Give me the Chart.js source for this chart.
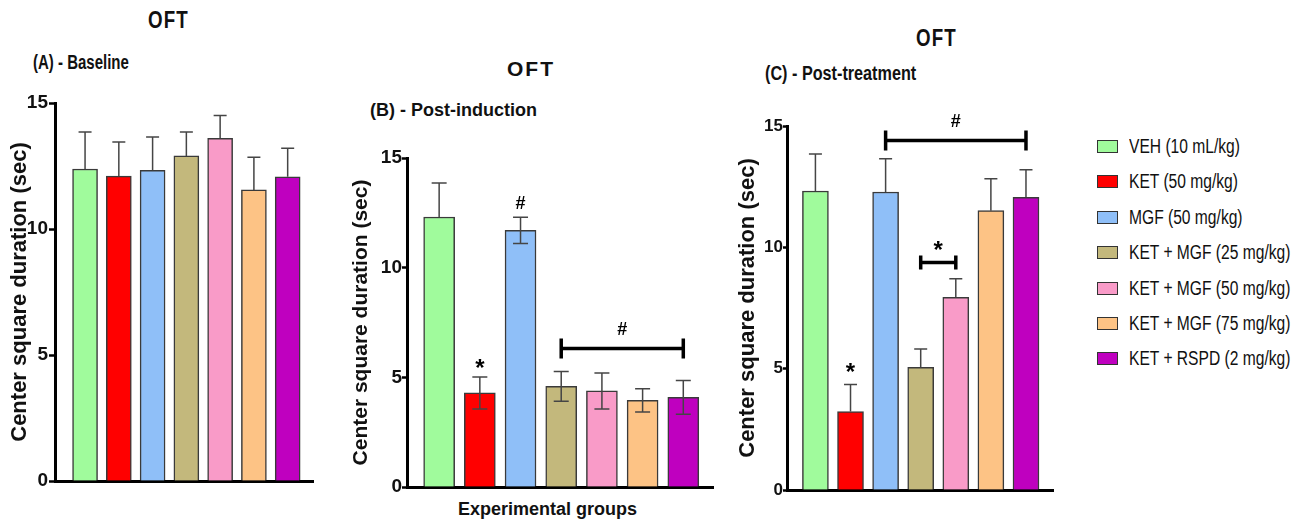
<!DOCTYPE html>
<html>
<head>
<meta charset="utf-8">
<script src="https://cdn.jsdelivr.net/npm/chart.js@4.4.1/dist/chart.umd.min.js"></script>
<style>
  body { margin: 0; background: #fff; width: 1300px; height: 521px; position: relative; overflow: hidden; font-family: "Liberation Sans", Arial, sans-serif; color: #111; }
  canvas { position: absolute; }
  .t { position: absolute; font-weight: bold; white-space: nowrap; line-height: 1; }
  .narrow { transform: scaleX(0.78); transform-origin: 0 0; }
  #legend { position: absolute; left: 1097px; top: 136px; }
  .row { position: absolute; left: 0; height: 20px; white-space: nowrap; }
  .box { position: absolute; left: 0; top: 4px; width: 19px; height: 11px; border: 1px solid #333; }
  .lab { position: absolute; left: 32px; top: -1px; font-size: 20px; line-height: 22px; transform: scaleX(0.78); transform-origin: 0 0; }
</style>
</head>
<body>
<div class="t narrow" style="left:148px;top:8px;font-size:24px;letter-spacing:1.5px">OFT</div>
<div class="t narrow" style="left:33px;top:52px;font-size:20px;transform:scaleX(0.75)">(A) - Baseline</div>
<div class="t" style="left:507px;top:58px;font-size:21px;letter-spacing:2px">OFT</div>
<div class="t" style="left:370px;top:101px;font-size:18px">(B) - Post-induction</div>
<div class="t narrow" style="left:916px;top:26px;font-size:24px;letter-spacing:1.5px">OFT</div>
<div class="t narrow" style="left:765px;top:63px;font-size:20px;transform:scaleX(0.81)">(C) - Post-treatment</div>
<div class="t" style="left:458px;top:500px;font-size:18px">Experimental groups</div>

<canvas id="chartA" width="325" height="420" style="left:0px;top:85px"></canvas>
<canvas id="chartB" width="385" height="370" style="left:340px;top:140px"></canvas>
<canvas id="chartC" width="345" height="400" style="left:720px;top:108px"></canvas>
<div id="legend"></div>

<script>
const groups = ["VEH (10 mL/kg)", "KET (50 mg/kg)", "MGF (50 mg/kg)", "KET + MGF (25 mg/kg)", "KET + MGF (50 mg/kg)", "KET + MGF (75 mg/kg)", "KET + RSPD (2 mg/kg)"];
const colors = ["#a0fb9c", "#ff0000", "#8fbff8", "#c3b87c", "#f99bc8", "#fdc385", "#bf00bf"];
const yTicks = [0, 5, 10, 15];

const baseline = [12.38, 12.1, 12.33, 12.9, 13.6, 11.55, 12.07];
const baselineErr = [1.47, 1.35, 1.32, 0.95, 0.9, 1.3, 1.13];

const postInduction = [12.31, 4.29, 11.7, 4.59, 4.38, 3.95, 4.09];
const postInductionErr = [1.55, 0.73, 0.6, 0.68, 0.82, 0.53, 0.77];
const postInductionTwoSided = [false, true, true, true, true, true, true];
const marksB = [{ text: "*", at: 1, y: 5.55 }, { text: "#", at: 2, y: 12.9 }, { text: "#", at: 4.5, y: 7.14 }];
const bracketsB = [{ from: 3, to: 6, y: 6.31 }];

const postTreatment = [12.32, 3.23, 12.28, 5.05, 7.94, 11.51, 12.06];
const postTreatmentErr = [1.53, 1.12, 1.37, 0.76, 0.77, 1.32, 1.14];
const marksC = [{ text: "*", at: 1, y: 4.97 }, { text: "#", at: 4, y: 15.18 }, { text: "*", at: 3.5, y: 9.99 }];
const bracketsC = [{ from: 2, to: 6, y: 14.4 }, { from: 3, to: 4, y: 9.38 }];

// legend
const legend = document.getElementById("legend");
groups.forEach((g, i) => {
  const row = document.createElement("div");
  row.className = "row";
  row.style.top = (i * 35.4) + "px";
  row.innerHTML = '<span class="box" style="background:' + colors[i] + '"></span><span class="lab">' + g + '</span>';
  legend.appendChild(row);
});

// error bars + significance marks
const errPlugin = {
  id: "errs",
  afterDatasetsDraw(chart, args, o) {
    const { ctx } = chart;
    const x = chart.scales.x, y = chart.scales.y;
    const meta = chart.getDatasetMeta(0);
    ctx.save();
    ctx.strokeStyle = "#454545";
    ctx.lineWidth = 1.5;
    o.means.forEach((m, i) => {
      const px = meta.data[i].x;
      const top = y.getPixelForValue(m + o.err[i]);
      const two = o.two && o.two[i];
      const bot = y.getPixelForValue(two ? m - o.err[i] : m);
      ctx.beginPath();
      ctx.moveTo(px, top); ctx.lineTo(px, bot);
      ctx.moveTo(px - o.cap, top); ctx.lineTo(px + o.cap, top);
      if (two) { ctx.moveTo(px - o.cap, bot); ctx.lineTo(px + o.cap, bot); }
      ctx.stroke();
    });
    ctx.strokeStyle = "#000";
    ctx.lineWidth = 3.5;
    (o.brackets || []).forEach(b => {
      const x1 = x.getPixelForValue(b.from), x2 = x.getPixelForValue(b.to);
      const py = y.getPixelForValue(b.y);
      const h = b.to - b.from > 1 ? 10 : 7;
      ctx.beginPath();
      ctx.moveTo(x1, py); ctx.lineTo(x2, py);
      ctx.moveTo(x1, py - h); ctx.lineTo(x1, py + h);
      ctx.moveTo(x2, py - h); ctx.lineTo(x2, py + h);
      ctx.stroke();
    });
    ctx.fillStyle = "#000";
    ctx.textAlign = "center";
    ctx.textBaseline = "middle";
    (o.marks || []).forEach(mk => {
      ctx.font = mk.text === "*" ? "bold 24px 'Liberation Sans'" : "bold 18px 'Liberation Sans'";
      ctx.fillText(mk.text, x.getPixelForValue(mk.at), y.getPixelForValue(mk.y) + (mk.text === "*" ? 4 : 0));
    });
    ctx.restore();
  }
};

function makeChart(id, s) {
  new Chart(document.getElementById(id), {
    type: "bar",
    data: {
      datasets: [{
        data: s.values.map((v, i) => ({ x: i, y: v })),
        backgroundColor: colors,
        borderColor: "#3a3a3a",
        borderWidth: 1.5,
        barThickness: s.bar
      }]
    },
    options: {
      responsive: false,
      animation: false,
      layout: { padding: { left: 0, top: s.padTop, right: s.padRight, bottom: s.padBottom } },
      plugins: {
        legend: { display: false },
        tooltip: { enabled: false },
        errs: { means: s.values, err: s.err, two: s.two, cap: s.cap, marks: s.marks, brackets: s.brackets }
      },
      scales: {
        x: {
          type: "linear", min: s.xmin, max: s.xmax, offset: false,
          ticks: { display: false },
          grid: { display: false },
          border: { display: true, color: "#000", width: 3 },
          afterFit(sc) { sc.height = 0; }
        },
        y: {
          min: 0, max: 15,
          afterBuildTicks(sc) { sc.ticks = yTicks.map(v => ({ value: v })); },
          ticks: { color: "#111", padding: s.tickPad, font: { family: "'Liberation Sans'", size: s.tickSize, weight: "bold" } },
          grid: { display: true, drawOnChartArea: false, drawTicks: true, tickLength: s.tickLen, tickColor: "#000", tickWidth: 2.5 },
          border: { display: true, color: "#000", width: 3 },
          title: { display: true, text: "Center square duration (sec)", color: "#111", padding: { top: s.titlePad, bottom: 0 }, font: { family: "'Liberation Sans'", size: s.titleSize, weight: "bold" } },
          afterFit(sc) { sc.width = s.axisW; }
        }
      }
    },
    plugins: [errPlugin]
  });
}

makeChart("chartA", {
  values: baseline, err: baselineErr, bar: 25, cap: 6.5,
  xmin: -0.89, xmax: 6.75, padTop: 18, padRight: 12, padBottom: 24,
  axisW: 55, tickPad: 1, tickLen: 6, tickSize: 19,
  titleSize: 22, titlePad: 7
});
makeChart("chartB", {
  values: postInduction, err: postInductionErr, two: postInductionTwoSided, bar: 31, cap: 7.5,
  marks: marksB, brackets: bracketsB,
  xmin: -0.79, xmax: 6.73, padTop: 18, padRight: 12, padBottom: 23,
  axisW: 67, tickPad: 0, tickLen: 5, tickSize: 19,
  titleSize: 21, titlePad: 9
});
makeChart("chartC", {
  values: postTreatment, err: postTreatmentErr, bar: 26, cap: 6.5,
  marks: marksC, brackets: bracketsC,
  xmin: -0.81, xmax: 6.77, padTop: 18, padRight: 12, padBottom: 18,
  axisW: 67, tickPad: 0, tickLen: 4, tickSize: 17,
  titleSize: 22, titlePad: 15
});
</script>
</body>
</html>
